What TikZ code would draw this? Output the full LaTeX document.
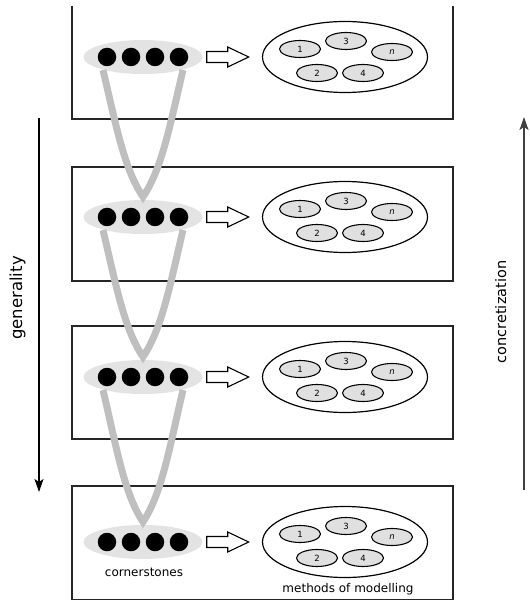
\documentclass[tikz,border=0pt]{standalone}
\usepackage{fontspec}
\setmainfont{DejaVu Sans}
\usetikzlibrary{calc}
\usetikzlibrary{arrows.meta}
\usetikzlibrary{shapes.geometric}

\tikzset{
  level/.style={draw,line width=1.2pt,black!85},
  stones/.style={ellipse,fill=black!11,minimum width=119pt,minimum height=34pt,inner sep=0pt},
  stone/.style={circle,fill=black,minimum size=18.5pt,inner sep=0pt},
  methods/.style={ellipse,draw,line width=1.2pt,minimum width=165pt,minimum height=71pt,inner sep=0pt},
  method/.style={ellipse,draw,fill=black!12,line width=1.1pt,minimum width=41pt,minimum height=17pt,inner sep=0pt,font=\fontsize{8.5}{9}\selectfont},
  link/.style={line width=7pt,black!25,line join=miter},
  hollow/.style={draw,fill=white,line width=1.1pt},
}

\begin{document}
\begin{tikzpicture}[x=1pt,y=-1pt]
		\useasboundingbox (0,0) rectangle (529,601);
		
		% the four levels
		\draw[level] (72,6) -- (72,119) -- (453,119) -- (453,6);
		\draw[level] (72,167) rectangle (453,281);
		\draw[level] (72,326) rectangle (453,439);
		\draw[level] (72,486) rectangle (453,599.5);
		
		\foreach \i/\y in {1/57,2/217,3/377,4/542}{
			\node[stones](cs\i) at (143,\y){};
			\node[stone](s\i1) at (107,\y){};
			\node[stone](s\i2) at (131,\y){};
			\node[stone](s\i3) at (155,\y){};
			\node[stone](s\i4) at (179,\y){};
			
			\node[methods](mm\i) at (345,\y){};
			\node[method](m\i1) at (300,\y-8){1};
			\node[method](m\i3) at (346,\y-16){3};
			\node[method](m\i5) at (392,\y-5){\textit{n}};
			\node[method](m\i2) at (317,\y+16){2};
			\node[method](m\i4) at (363,\y+16){4};
			
			\draw[hollow] ($(cs\i.east)+(4,-5.5)$) -- ++(21,0) -- ++(0,-4.5) -- ++(21,10)
				-- ++(-21,10) -- ++(0,-4.5) -- ++(-21,0) -- cycle;
		}
		
		% links between the cornerstones
		\foreach \i/\j in {1/2,2/3,3/4}{
			\draw[link] ($(cs\i.center)+(-40,13)$) .. controls +(13,55) and +(-19,-28) .. ($(cs\j.north)+(0,-3)$)
				.. controls +(19,-28) and +(-13,55) .. ($(cs\i.center)+(40,13)$);
		}
		
		\node[anchor=base,font=\fontsize{12}{14}\selectfont](cst) at (144,576){cornerstones};
		\node[anchor=base,font=\fontsize{12}{14}\selectfont](mst) at (348,592){methods of modelling};
		
		% side arrows
		\coordinate(G1) at (39,118);
		\coordinate(G2) at (39,492);
		\coordinate(C1) at (524,490);
		\coordinate(C2) at (524,117);
		\draw[line width=1.2pt,-{Stealth[length=13pt,width=9pt,inset=3pt]}] (G1)--(G2);
		\draw[line width=1.2pt,black!75,-{Stealth[length=13pt,width=9pt,inset=3pt]}] (C1)--(C2);
		\node[rotate=90,anchor=base,font=\fontsize{16.5}{18}\selectfont](gen) at (22,298){generality};
		\node[rotate=90,anchor=base,font=\fontsize{14.5}{16}\selectfont](con) at (506,312){concretization};
	\end{tikzpicture}
\end{document}
